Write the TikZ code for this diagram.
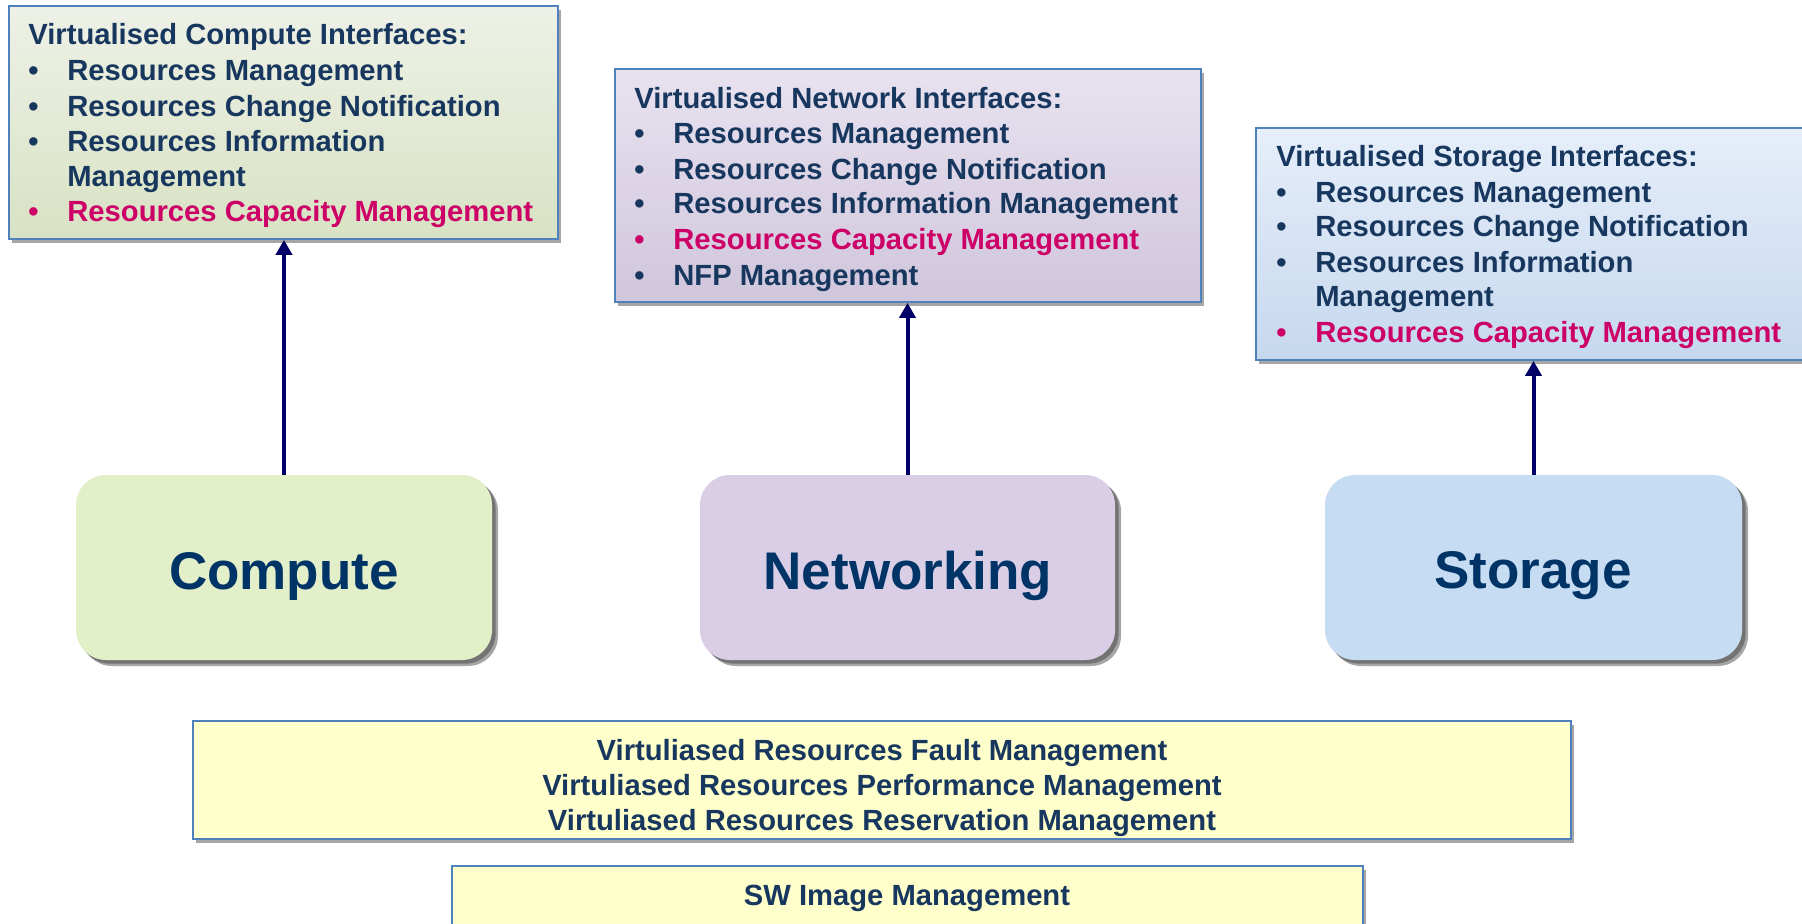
\documentclass[tikz,border=0pt]{standalone}
\usepackage{fontspec}
\setmainfont{Liberation Sans}
\usetikzlibrary{shadows,arrows.meta,calc,fit}
\definecolor{navy}{HTML}{17375E}
\definecolor{labelblue}{HTML}{003366}
\definecolor{capred}{HTML}{CC0066}
\definecolor{arrowc}{HTML}{000066}
\definecolor{bordc}{HTML}{4F81BD}
\definecolor{cgtop}{HTML}{EEF1E7}
\definecolor{cgbot}{HTML}{D8E2C3}
\definecolor{ngtop}{HTML}{E8E2EF}
\definecolor{ngbot}{HTML}{D0C6DD}
\definecolor{sgtop}{HTML}{E6EEFA}
\definecolor{sgbot}{HTML}{C6D8EE}
\definecolor{cfill}{HTML}{E2EFC9}
\definecolor{nfill}{HTML}{D9CEE6}
\definecolor{sfill}{HTML}{C6DCF2}
\definecolor{yfill}{HTML}{FFFFCC}
\newcommand\itemfont{\fontsize{14.6pt}{17.7pt}\selectfont\bfseries}
\newcommand\bigfont{\fontsize{26.5pt}{30pt}\selectfont\bfseries}
\newcommand\bitem[1]{\makebox[19.5pt][l]{•}#1}
\begin{document}
\begin{tikzpicture}[x=0.5pt,y=-0.5pt,
  ibox/.style={draw=bordc, line width=0.9pt, inner sep=0pt,
    drop shadow={shadow xshift=1.5pt, shadow yshift=-2pt, opacity=0.35, fill=black}},
  rbox/.style={rounded corners=15pt, inner sep=0pt, draw=none,
    drop shadow={shadow xshift=3pt, shadow yshift=-3pt, opacity=0.35, fill=black},
    general shadow={shadow xshift=1.8pt, shadow yshift=-1.8pt, fill=black!55},
    general shadow={shadow xshift=-0.8pt, shadow yshift=1pt, fill=white}},
  big/.style={inner sep=0pt, font=\bigfont, text=labelblue},
  ybox/.style={draw=bordc, fill=yfill, line width=0.9pt, inner sep=0pt,
    drop shadow={shadow xshift=1.5pt, shadow yshift=-2pt, opacity=0.35, fill=black}},
  ln/.style={anchor=base west, inner sep=0pt, font=\itemfont, text=navy},
  cl/.style={anchor=center, inner sep=0pt, font=\itemfont, text=navy, align=center},
  arr/.style={draw=arrowc, line width=2pt, -{Triangle[length=7.5pt,width=8pt]}}
]
\useasboundingbox (0,0) rectangle (1802,924);
\clip (0,0) rectangle (1802,924);

% interface boxes
\node[ibox, top color=cgtop, bottom color=cgbot, fit={(9,6) (558,239)}] (ci) {};
\node[ibox, top color=ngtop, bottom color=ngbot, fit={(615,69) (1201,302)}] (ni) {};
\node[ibox, top color=sgtop, bottom color=sgbot, fit={(1256,128) (1812,360)}] (si) {};

% compute interface text
\node[ln] (ci1) at (28,45) {Virtualised Compute Interfaces:};
\node[ln] (ci2) at (28,81) {\bitem{Resources Management}};
\node[ln] (ci3) at (28,117) {\bitem{Resources Change Notification}};
\node[ln] (ci4) at (28,152) {\bitem{Resources Information}};
\node[ln] (ci5) at (28,187) {\hspace*{19.5pt}Management};
\node[ln, text=capred] (ci6) at (28,222) {\bitem{Resources Capacity Management}};

% network interface text
\node[ln] (ni1) at (634,109) {Virtualised Network Interfaces:};
\node[ln] (ni2) at (634,144) {\bitem{Resources Management}};
\node[ln] (ni3) at (634,180) {\bitem{Resources Change Notification}};
\node[ln] (ni4) at (634,214) {\bitem{Resources Information Management}};
\node[ln, text=capred] (ni5) at (634,250) {\bitem{Resources Capacity Management}};
\node[ln] (ni6) at (634,286) {\bitem{NFP Management}};

% storage interface text
\node[ln] (si1) at (1276,167) {Virtualised Storage Interfaces:};
\node[ln] (si2) at (1276,203) {\bitem{Resources Management}};
\node[ln] (si3) at (1276,237) {\bitem{Resources Change Notification}};
\node[ln] (si4) at (1276,273) {\bitem{Resources Information}};
\node[ln] (si5) at (1276,307) {\hspace*{19.5pt}Management};
\node[ln, text=capred] (si6) at (1276,343) {\bitem{Resources Capacity Management}};

% resource boxes
\node[rbox, fill=cfill, fit={(76,475) (492,660)}] (comp) {};
\node[rbox, fill=nfill, fit={(700,475) (1115,660)}] (netw) {};
\node[rbox, fill=sfill, fit={(1325,475) (1742,660)}] (stor) {};
\node[big] (compl) at (284,576) {Compute};
\node[big] (netwl) at (908,576) {Networking};
\node[big] (storl) at (1533,576) {Storage};

% arrows
\draw[arr] (comp.north) -- (comp.north |- ci.south);
\draw[arr] (netw.north) -- (netw.north |- ni.south);
\draw[arr] (stor.north) -- (stor.north |- si.south);

% bottom boxes
\node[ybox, fit={(193,721) (1571,839)}] (fault) {};
\node[cl] (faulttxt) at ($(fault.center)+(0,8)$) {Virtuliased Resources Fault Management\\Virtuliased Resources Performance Management\\Virtuliased Resources Reservation Management};
\node[ybox, fit={(452,866) (1363,950)}] (swi) {};
\node[cl] (switxt) at (907,898) {SW Image Management};
\end{tikzpicture}
\end{document}
